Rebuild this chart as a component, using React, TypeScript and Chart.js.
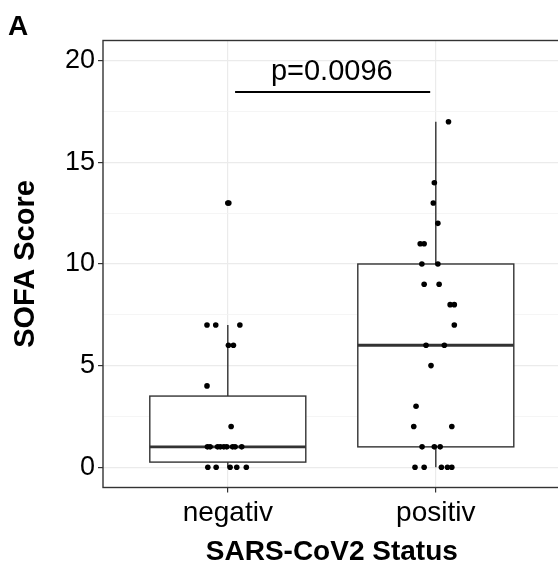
import React, { useEffect, useRef } from "react";
import { Chart, registerables } from "chart.js";

Chart.register(...registerables);

const panelLabel = "A";
const categories = ["negativ", "positiv"];
const yMajorTicks = [0, 5, 10, 15, 20];
const yMinorTicks = [2.5, 7.5, 12.5, 17.5];
const yTitle = "SOFA Score";
const xTitle = "SARS-CoV2 Status";

// boxplot statistics per category
const boxQ1 = [0.25, 1];
const boxMedian = [1, 6];
const boxQ3 = [3.5, 10];
const whiskerLow = [0, 0];
const whiskerHigh = [7, 17];
const outlierCategory = [1];
const outlierValues = [13];

// jittered observations
const negativValues = [7, 7, 7, 6, 6, 4, 2, 1, 1, 1, 1, 1, 1, 1, 1, 1, 0, 0, 0, 0, 0, 13];
const negativJitter = [-0.1, -0.058, 0.058, 0.003, 0.027, -0.1, 0.016, -0.098, -0.085, -0.049, -0.036, -0.019, -0.005, 0.023, 0.035, 0.067, -0.096, -0.056, 0.011, 0.043, 0.089, 0.005];
const positivValues = [17, 14, 13, 12, 11, 11, 10, 10, 9, 9, 8, 8, 7, 6, 6, 5, 3, 2, 2, 1, 1, 1, 0, 0, 0, 0, 0];
const positivJitter = [0.061, -0.007, -0.012, 0.01, -0.075, -0.056, -0.067, 0.01, -0.056, 0.016, 0.069, 0.089, 0.089, -0.047, 0.041, -0.023, -0.095, -0.106, 0.077, -0.066, -0.007, 0.021, -0.1, -0.056, 0.027, 0.056, 0.077];

// significance annotation
const pValueLabel = "p=0.0096";
const bracketX = [1.035, 1.973];
const bracketY = 18.47;
const pLabelX = 1.5;
const pLabelY = 19.05;

const FONT = '"Liberation Sans", Arial, Helvetica, sans-serif';

export default function App() {
  const ref = useRef<HTMLCanvasElement | null>(null);

  useEffect(() => {
    const canvas = ref.current;
    if (!canvas) return;

    const points = [
      ...negativValues.map((v, i) => ({ x: 1 + negativJitter[i], y: v })),
      ...positivValues.map((v, i) => ({ x: 2 + positivJitter[i], y: v })),
    ];
    const outliers = outlierValues.map((v, i) => ({ x: outlierCategory[i], y: v }));

    const boxPlugin = {
      id: "boxes",
      beforeDatasetsDraw(chart: any) {
        const { ctx } = chart;
        const xs = chart.scales.x;
        const ys = chart.scales.y;
        ctx.save();
        categories.forEach((_, i) => {
          const c = i + 1;
          const l = xs.getPixelForValue(c - 0.375);
          const r = xs.getPixelForValue(c + 0.375);
          const cx = xs.getPixelForValue(c);
          const q1 = ys.getPixelForValue(boxQ1[i]);
          const q3 = ys.getPixelForValue(boxQ3[i]);
          const med = ys.getPixelForValue(boxMedian[i]);
          const wl = ys.getPixelForValue(whiskerLow[i]);
          const wh = ys.getPixelForValue(whiskerHigh[i]);
          ctx.strokeStyle = "#333333";
          ctx.lineWidth = 1.4;
          ctx.beginPath();
          ctx.moveTo(cx, q3);
          ctx.lineTo(cx, wh);
          ctx.moveTo(cx, q1);
          ctx.lineTo(cx, wl);
          ctx.stroke();
          ctx.fillStyle = "#ffffff";
          ctx.fillRect(l, q3, r - l, q1 - q3);
          ctx.strokeRect(l, q3, r - l, q1 - q3);
          ctx.lineWidth = 2.8;
          ctx.beginPath();
          ctx.moveTo(l, med);
          ctx.lineTo(r, med);
          ctx.stroke();
        });
        ctx.restore();
      },
      afterDatasetsDraw(chart: any) {
        const { ctx, chartArea } = chart;
        const xs = chart.scales.x;
        const ys = chart.scales.y;
        ctx.save();
        ctx.strokeStyle = "#000000";
        ctx.lineWidth = 2;
        ctx.beginPath();
        const by = ys.getPixelForValue(bracketY);
        ctx.moveTo(xs.getPixelForValue(bracketX[0]), by);
        ctx.lineTo(xs.getPixelForValue(bracketX[1]), by);
        ctx.stroke();
        ctx.fillStyle = "#000000";
        ctx.font = `29px ${FONT}`;
        ctx.textAlign = "center";
        ctx.textBaseline = "alphabetic";
        ctx.fillText(pValueLabel, xs.getPixelForValue(pLabelX), ys.getPixelForValue(pLabelY));
        ctx.strokeStyle = "#333333";
        ctx.lineWidth = 1.4;
        ctx.strokeRect(chartArea.left, chartArea.top, chartArea.right - chartArea.left, chartArea.bottom - chartArea.top);
        ctx.restore();
      },
      afterDraw(chart: any) {
        const { ctx } = chart;
        ctx.save();
        ctx.fillStyle = "#000000";
        ctx.font = `bold 28px ${FONT}`;
        ctx.textAlign = "left";
        ctx.textBaseline = "alphabetic";
        ctx.fillText(panelLabel, 8, 35);
        ctx.restore();
      },
    };

    const chart = new Chart(canvas, {
      type: "scatter",
      data: {
        datasets: [
          {
            data: points,
            pointRadius: 2.8,
            pointHoverRadius: 2.8,
            backgroundColor: "#000000",
            borderWidth: 0,
          },
          {
            data: outliers,
            pointRadius: 2.8,
            pointHoverRadius: 2.8,
            backgroundColor: "#000000",
            borderWidth: 0,
          },
        ],
      },
      options: {
        animation: false,
        responsive: false,
        devicePixelRatio: 1,
        layout: { padding: { top: 40.5, right: 5.4, bottom: 0, left: 0 } },
        plugins: { legend: { display: false }, tooltip: { enabled: false } },
        scales: {
          x: {
            type: "linear",
            min: 0.4,
            max: 2.6,
            afterBuildTicks: (axis: any) => {
              axis.ticks = categories.map((_, i) => ({ value: i + 1 }));
            },
            afterFit: (scale: any) => {
              scale.height = 86.5;
            },
            ticks: {
              callback: (v: any) => categories[Math.round(Number(v)) - 1] ?? "",
              color: "#000000",
              font: { family: FONT, size: 28 },
              padding: 4,
              maxRotation: 0,
              autoSkip: false,
            },
            grid: {
              color: "#ebebeb",
              lineWidth: 1.2,
              tickColor: "#333333",
              tickLength: 5,
              tickWidth: 1.2,
            },
            border: { display: false },
            title: {
              display: true,
              text: xTitle,
              color: "#000000",
              font: { family: FONT, size: 28, weight: "bold" },
              padding: { top: 0, bottom: 5.2 },
            },
          },
          y: {
            type: "linear",
            min: -1,
            max: 21,
            afterBuildTicks: (axis: any) => {
              axis.ticks = [...yMajorTicks, ...yMinorTicks].sort((a, b) => a - b).map((v) => ({ value: v }));
            },
            afterFit: (scale: any) => {
              scale.width = 103;
            },
            ticks: {
              callback: (v: any) => (yMajorTicks.includes(Number(v)) ? String(v) : ""),
              color: "#000000",
              font: { family: FONT, size: 27 },
              padding: 3,
              autoSkip: false,
            },
            grid: {
              color: (c: any) => (yMajorTicks.includes(c.tick?.value) ? "#ebebeb" : "#f2f2f2"),
              lineWidth: (c: any) => (yMajorTicks.includes(c.tick?.value) ? 1.2 : 0.8),
              tickColor: (c: any) => (yMajorTicks.includes(c.tick?.value) ? "#333333" : "rgba(0,0,0,0)"),
              tickLength: 5,
              tickWidth: 1.2,
            },
            border: { display: false },
            title: {
              display: true,
              text: yTitle,
              color: "#000000",
              font: { family: FONT, size: 29, weight: "bold" },
              padding: { top: 8.6, bottom: 0 },
            },
          },
        },
      },
      plugins: [boxPlugin],
    });

    return () => chart.destroy();
  }, []);

  return (
    <div style={{ position: "absolute", left: 0, top: 0, width: 558, height: 574, overflow: "hidden", background: "#ffffff" }}>
      <canvas ref={ref} width={566} height={574} style={{ display: "block", width: 566, height: 574 }} />
    </div>
  );
}
